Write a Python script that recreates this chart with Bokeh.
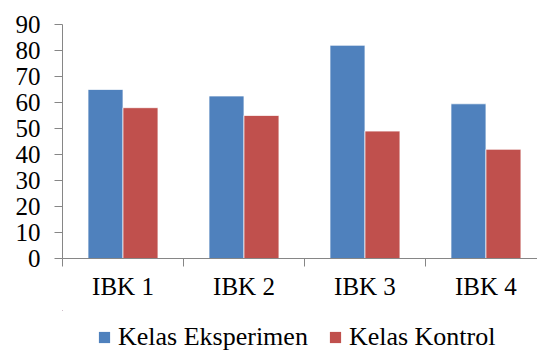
from bokeh.plotting import figure
from bokeh.layouts import column
from bokeh.models import (ColumnDataSource, Range1d, FixedTicker, Legend, LegendItem)
from bokeh.transform import dodge
from bokeh.embed import file_html
from bokeh.resources import INLINE

# Data
categories = ["IBK 1", "IBK 2", "IBK 3", "IBK 4"]
eksperimen = [65, 62.5, 82, 59.5]
kontrol = [58, 55, 49, 42]
series_names = ["Kelas Eksperimen", "Kelas Kontrol"]
y_ticks = [0, 10, 20, 30, 40, 50, 60, 70, 80, 90]

BLUE = "#4F81BD"
RED = "#C0504D"
AXIS = "#868686"
FONT = "Liberation Serif"

centers = [i + 0.5 for i in range(len(categories))]
source = ColumnDataSource(dict(x=centers, cat=categories, eks=eksperimen, kon=kontrol))

p = figure(frame_width=475, frame_height=234, x_range=Range1d(0, 3.926), y_range=Range1d(0, 90),
           output_backend="svg", toolbar_location=None,
           min_border_left=62, min_border_right=0, min_border_top=24, min_border_bottom=52)
p.outline_line_color = None
p.xgrid.visible = False
p.ygrid.visible = False
p.background_fill_color = "white"
p.border_fill_color = "white"

bw = 0.289
p.vbar(x=dodge("x", -bw / 2, range=p.x_range), top="eks", width=bw, source=source,
       fill_color=BLUE, line_color="white", line_alpha=0.7, line_width=1)
p.vbar(x=dodge("x", bw / 2, range=p.x_range), top="kon", width=bw, source=source,
       fill_color=RED, line_color="white", line_alpha=0.7, line_width=1)

# x axis: labels at category centres, ticks at category boundaries
xa = p.xaxis[0]
xa.ticker = FixedTicker(ticks=centers, minor_ticks=list(range(len(categories) + 1)))
xa.major_label_overrides = {c: lab for c, lab in zip(centers, categories)}
xa.major_tick_out = 0
xa.major_tick_in = 0
xa.minor_tick_out = 8
xa.minor_tick_in = 0
xa.minor_tick_line_color = AXIS
xa.axis_line_color = AXIS
xa.major_label_text_font = FONT
xa.major_label_text_font_size = "25px"
xa.major_label_text_color = "black"
xa.major_label_standoff = 6

ya = p.yaxis[0]
ya.ticker = FixedTicker(ticks=y_ticks, minor_ticks=[])
ya.major_tick_out = 8
ya.major_tick_in = 0
ya.major_tick_line_color = AXIS
ya.axis_line_color = AXIS
ya.major_label_text_font = FONT
ya.major_label_text_font_size = "25px"
ya.major_label_text_color = "black"
ya.major_label_standoff = 14

# legend strip underneath the chart; its bars lie outside the strip's visible ranges
lg = figure(width=537, height=42, x_range=Range1d(100, 101), y_range=Range1d(-1000, -999),
            output_backend="svg", toolbar_location=None,
            x_axis_location=None, y_axis_location=None, min_border=0)
lg.outline_line_color = None
lg.xgrid.visible = False
lg.ygrid.visible = False
k1 = lg.vbar(x="x", top="eks", width=0.1, source=source, fill_color=BLUE, line_color=None)
k2 = lg.vbar(x="x", top="kon", width=0.1, source=source, fill_color=RED, line_color=None)

legend = Legend(items=[LegendItem(label=series_names[0], renderers=[k1], index=0),
                       LegendItem(label=series_names[1], renderers=[k2], index=0)],
                orientation="horizontal", location=(35, 0))
legend.label_text_font = FONT
legend.label_text_font_size = "26px"
legend.label_text_color = "black"
legend.glyph_width = 14
legend.glyph_height = 14
legend.label_standoff = 7
legend.spacing = 20
legend.padding = 0
legend.margin = 0
legend.border_line_color = None
legend.background_fill_alpha = 0
lg.add_layout(legend)

open("out.html", "w").write(file_html(column(p, lg, spacing=0), INLINE))
